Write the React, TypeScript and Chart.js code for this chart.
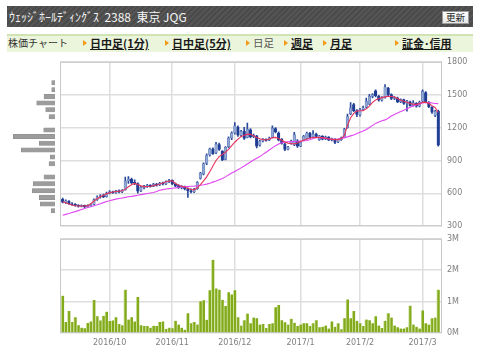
import React, { useEffect, useRef } from "react";
import { Chart, registerables } from "chart.js";
Chart.register(...registerables);

// ---- data (trading days 2016/9/8 .. 2017/3/8) ----
const monthTickIdx = [15, 35, 55, 76, 95, 115];
const monthLabels = ["2016/10", "2016/11", "2016/12", "2017/1", "2017/2", "2017/3"];
const priceTicks = [300, 600, 900, 1200, 1500, 1800];
const volTicks = [0, 1, 2, 3];

const opens = [
  545, 516, 530, 505, 500, 490, 480, 490, 478, 488,
  500, 542, 566, 580, 570, 602, 614, 606, 622, 612,
  632, 712, 728, 700, 690, 624, 652, 664, 672, 664,
  684, 676, 694, 686, 706, 718, 686, 670, 652, 662,
  640, 622, 612, 642, 735, 775, 872, 950, 1005, 970,
  1045, 985, 910, 1025, 1105, 1150, 1205, 1130, 1165, 1110,
  1180, 1118, 1125, 1040, 1078, 1092, 1085, 1110, 1190, 1150,
  1095, 1050, 1000, 1055, 1040, 1080, 1030, 1085, 1100, 1150,
  1115, 1140, 1090, 1120, 1095, 1112, 1085, 1095, 1068, 1090,
  1110, 1200, 1325, 1410, 1355, 1315, 1365, 1385, 1415, 1485,
  1535, 1485, 1450, 1475, 1560, 1500, 1465, 1470, 1435, 1455,
  1420, 1435, 1400, 1420, 1395, 1440, 1520, 1430, 1385, 1310,
  1350,
];
const highs = [
  556, 540, 534, 516, 506, 498, 495, 493, 494, 505,
  550, 578, 588, 592, 612, 626, 620, 628, 632, 634,
  748, 752, 740, 722, 696, 664, 674, 682, 680, 692,
  692, 700, 702, 714, 728, 722, 694, 678, 670, 666,
  650, 640, 646, 708, 792, 878, 960, 1012, 1015, 1066,
  1058, 990, 1026, 1115, 1160, 1246, 1215, 1175, 1202, 1240,
  1190, 1140, 1130, 1085, 1100, 1098, 1112, 1216, 1200, 1160,
  1100, 1055, 1028, 1085, 1156, 1090, 1072, 1130, 1158, 1156,
  1172, 1150, 1130, 1126, 1122, 1118, 1105, 1100, 1094, 1112,
  1192, 1323, 1428, 1420, 1365, 1375, 1395, 1470, 1503, 1510,
  1545, 1495, 1482, 1592, 1568, 1508, 1482, 1478, 1462, 1460,
  1448, 1442, 1446, 1428, 1442, 1545, 1528, 1436, 1392, 1358,
  1360,
];
const lows = [
  512, 508, 498, 490, 482, 474, 476, 468, 472, 482,
  496, 535, 555, 560, 565, 594, 598, 600, 604, 606,
  628, 690, 688, 680, 602, 614, 640, 654, 656, 660,
  666, 670, 676, 680, 698, 678, 660, 645, 640, 630,
  562, 604, 606, 636, 728, 768, 862, 940, 955, 962,
  992, 898, 905, 1015, 1090, 1140, 1120, 1120, 1092, 1105,
  1105, 1108, 1015, 1030, 1070, 1075, 1080, 1105, 1150, 1078,
  1048, 990, 995, 1048, 1035, 1018, 1025, 1078, 1095, 1100,
  1110, 1112, 1082, 1088, 1090, 1080, 1078, 1054, 1062, 1082,
  1105, 1195, 1318, 1345, 1300, 1305, 1355, 1378, 1408, 1470,
  1480, 1440, 1440, 1468, 1490, 1455, 1455, 1428, 1428, 1410,
  1350, 1395, 1395, 1385, 1388, 1435, 1425, 1382, 1330, 1300,
  1030,
];
const closes = [
  520, 532, 505, 498, 490, 482, 490, 478, 488, 500,
  542, 566, 578, 568, 602, 614, 604, 622, 612, 628,
  712, 730, 698, 692, 620, 654, 664, 672, 662, 684,
  674, 694, 684, 706, 718, 686, 668, 652, 662, 640,
  624, 612, 640, 700, 785, 870, 945, 1005, 962, 1048,
  1000, 905, 1020, 1105, 1150, 1215, 1130, 1165, 1100, 1185,
  1115, 1130, 1030, 1075, 1092, 1082, 1105, 1195, 1160, 1085,
  1055, 1000, 1020, 1078, 1135, 1030, 1065, 1120, 1150, 1110,
  1140, 1120, 1125, 1095, 1115, 1085, 1100, 1065, 1090, 1105,
  1185, 1300, 1380, 1355, 1320, 1365, 1380, 1440, 1485, 1500,
  1490, 1450, 1470, 1570, 1500, 1465, 1475, 1435, 1455, 1420,
  1440, 1400, 1425, 1395, 1430, 1530, 1430, 1390, 1340, 1350,
  1040,
];
// short moving average (red)
const maShort = [
  526, 515, 503, 493, 487, 485, 484, 485, 488, 505,
  530, 550, 568, 582, 595, 605, 612, 617, 620, 624,
  638, 660, 678, 690, 680, 668, 661, 662, 665, 670,
  676, 685, 695, 705, 712, 714, 690, 675, 665, 658,
  645, 635, 632, 650, 680, 713, 750, 797, 850, 900,
  935, 955, 975, 1000, 1035, 1066, 1095, 1117, 1130, 1140,
  1138, 1126, 1110, 1098, 1090, 1087, 1095, 1108, 1110, 1100,
  1085, 1068, 1058, 1052, 1051, 1060, 1072, 1085, 1096, 1104,
  1110, 1112, 1110, 1108, 1104, 1098, 1092, 1090, 1090, 1100,
  1129, 1220, 1290, 1330, 1350, 1353, 1353, 1370, 1395, 1430,
  1452, 1465, 1473, 1480, 1485, 1484, 1479, 1466, 1450, 1440,
  1430, 1420, 1413, 1412, 1419, 1430, 1432, 1419, 1400, 1383,
  1338,
];
// long moving average (magenta)
const maLong = [
  400, 408, 416, 425, 433, 442, 452, 462, 470, 477,
  486, 495, 505, 515, 525, 533, 540, 547, 553, 558,
  563, 568, 572, 577, 582, 588, 593, 598, 603, 608,
  616, 628, 634, 639, 643, 646, 650, 655, 658, 660,
  662, 664, 666, 669, 673, 678, 684, 692, 702, 712,
  724, 736, 750, 768, 785, 800, 815, 832, 850, 868,
  886, 904, 920, 935, 955, 975, 995, 1015, 1035, 1050,
  1062, 1067, 1070, 1072, 1073, 1075, 1078, 1080, 1082, 1088,
  1100, 1108, 1110, 1105, 1100, 1096, 1094, 1093, 1096, 1100,
  1108, 1115, 1124, 1133, 1145, 1157, 1168, 1183, 1200, 1220,
  1238, 1250, 1262, 1270, 1285, 1305, 1320, 1333, 1347, 1358,
  1372, 1385, 1396, 1405, 1415, 1424, 1428, 1428, 1424, 1420,
  1418,
];
// volume, millions of shares
const volumes = [
  1.19, 0.35, 0.7, 0.35, 0.5, 0.25, 0.17, 0.15, 0.32, 0.37,
  1.05, 0.53, 0.4, 0.55, 0.68, 0.38, 0.4, 0.5, 0.29, 0.25,
  1.38, 0.43, 0.5, 0.37, 1.15, 0.25, 0.22, 0.22, 0.17, 0.23,
  0.22, 0.35, 0.37, 0.13, 0.17, 0.15, 0.39, 0.27, 0.17, 0.1,
  0.63, 0.31, 0.35, 0.27, 1.01, 1.04, 0.42, 1.36, 2.33, 1.42,
  1.38, 1.06, 0.86, 1.3, 1.23, 1.36, 0.5, 0.24, 0.41, 0.62,
  0.31, 0.49, 0.47, 0.27, 0.29, 0.16, 0.29, 0.31, 0.82, 0.89,
  0.41, 0.34, 0.27, 0.45, 0.33, 0.22, 0.27, 0.31, 0.31, 0.22,
  0.31, 0.41, 0.18, 0.2, 0.24, 0.14, 0.37, 0.2, 0.31, 0.12,
  0.47, 1.07, 0.47, 0.7, 0.39, 0.31, 0.22, 0.43, 0.41, 0.31,
  0.53, 0.24, 0.16, 0.39, 0.63, 0.49, 0.24, 0.18, 0.14, 0.14,
  0.18, 0.87, 0.27, 0.2, 0.14, 0.72, 0.31, 0.27, 0.47, 0.49,
  1.38,
];
// price-by-volume profile
const profileLevels = [1605, 1542, 1480, 1422, 1362, 1300, 1240, 1180, 1122, 1062, 1000, 938, 877, 818, 758, 697, 635, 575, 515, 455];
const profileVol = [0.66, 0.66, 2.2, 3.66, 1.86, 1.2, 0, 2.26, 8.34, 3.14, 6.74, 0.94, 1.2, 0, 2.2, 4.34, 4.54, 3.14, 2.94, 0.74];

const X_MIN = -0.86;
const X_MAX = 121.2;
const GRID = "#dedede";
const TICK_FONT = { family: "DejaVu Sans", size: 8 };

const framePlugin = {
  id: "frame",
  beforeDatasetsDraw(chart: any) {
    const { ctx, chartArea } = chart;
    ctx.save();
    ctx.strokeStyle = "#c9c9c9";
    ctx.lineWidth = 1;
    ctx.strokeRect(chartArea.left + 0.5, chartArea.top + 0.5, chartArea.right - chartArea.left - 1, chartArea.bottom - chartArea.top - 1);
    ctx.restore();
  },
};

function monthXScale(showLabels: boolean) {
  return {
    type: "linear",
    min: X_MIN,
    max: X_MAX,
    offset: false,
    afterBuildTicks: (s: any) => {
      s.ticks = monthTickIdx.map((v) => ({ value: v }));
    },
    afterFit: (s: any) => {
      s.height = showLabels ? 27 : 0;
    },
    ticks: {
      display: showLabels,
      autoSkip: false,
      maxRotation: 0,
      padding: 5,
      font: TICK_FONT,
      color: "#808080",
      callback: (v: number) => monthLabels[monthTickIdx.indexOf(v)] ?? "",
    },
    grid: { color: GRID, lineWidth: 1.5, drawTicks: false, offset: false },
    border: { display: false },
  };
}

export default function App() {
  const profRef = useRef<HTMLCanvasElement>(null);
  const priceRef = useRef<HTMLCanvasElement>(null);
  const volRef = useRef<HTMLCanvasElement>(null);

  useEffect(() => {
    const idx = closes.map((_, i) => i);
    const isUp = (i: number) => closes[i] >= opens[i];

    const price = new Chart(priceRef.current as HTMLCanvasElement, {
      type: "bar",
      data: {
        datasets: [
          {
            type: "line",
            data: idx.map((i) => ({ x: i, y: maShort[i] })),
            borderColor: "#e8325c",
            borderWidth: 1.1,
            pointRadius: 0,
            tension: 0,
            order: 0,
          },
          {
            type: "line",
            data: idx.map((i) => ({ x: i, y: maLong[i] })),
            borderColor: "#e046f2",
            borderWidth: 1.1,
            pointRadius: 0,
            tension: 0,
            order: 1,
          },
          {
            type: "bar",
            data: idx.map((i) => ({ x: i, y: [opens[i], closes[i]] })),
            backgroundColor: idx.map((i) => (isUp(i) ? "#93a8d3" : "#1f3d94")),
            borderColor: idx.map((i) => (isUp(i) ? "#5a77b6" : "#1f3d94")),
            borderWidth: 0.6,
            borderSkipped: false,
            barThickness: 2.6,
            grouped: false,
            order: 2,
          },
          {
            type: "bar",
            data: idx.map((i) => ({ x: i, y: [lows[i], highs[i]] })),
            backgroundColor: "#2b4a9c",
            barThickness: 1,
            grouped: false,
            order: 3,
          },
        ],
      } as any,
      options: {
        animation: false,
        responsive: false,
        maintainAspectRatio: false,
        devicePixelRatio: 1,
        layout: { padding: { left: 4, top: 9, bottom: 8, right: 0 } },
        plugins: { legend: { display: false }, tooltip: { enabled: false } },
        scales: {
          x: monthXScale(false) as any,
          y: {
            type: "linear",
            position: "right",
            min: 300,
            max: 1800,
            afterBuildTicks: (s: any) => {
              s.ticks = priceTicks.map((v) => ({ value: v }));
            },
            afterFit: (s: any) => {
              s.width = 38;
            },
            ticks: { font: TICK_FONT, color: "#808080", padding: 5, callback: (v: number) => String(v) },
            grid: { color: GRID, lineWidth: 1.5, drawTicks: false },
            border: { display: false },
          },
        },
      },
      plugins: [framePlugin],
    });

    const vol = new Chart(volRef.current as HTMLCanvasElement, {
      type: "bar",
      data: {
        datasets: [
          {
            data: idx.map((i) => ({ x: i, y: volumes[i] })),
            backgroundColor: "#82aa1b",
            borderColor: "#c8de93",
            borderWidth: { left: 1, right: 0, top: 0, bottom: 0 },
            borderSkipped: false,
            barThickness: 3,
          },
        ],
      } as any,
      options: {
        animation: false,
        responsive: false,
        maintainAspectRatio: false,
        devicePixelRatio: 1,
        layout: { padding: { left: 4, top: 5, bottom: 0, right: 0 } },
        plugins: { legend: { display: false }, tooltip: { enabled: false } },
        scales: {
          x: monthXScale(true) as any,
          y: {
            type: "linear",
            position: "right",
            min: 0,
            max: 3,
            afterBuildTicks: (s: any) => {
              s.ticks = volTicks.map((v) => ({ value: v }));
            },
            afterFit: (s: any) => {
              s.width = 38;
            },
            ticks: { font: TICK_FONT, color: "#808080", padding: 5, callback: (v: number) => v + "M" },
            grid: { color: GRID, lineWidth: 1.5, drawTicks: false },
            border: { display: false },
          },
        },
      },
      plugins: [framePlugin],
    });

    const prof = new Chart(profRef.current as HTMLCanvasElement, {
      type: "bar",
      data: {
        datasets: [
          {
            data: profileLevels.map((p, i) => ({ y: p, x: profileVol[i] })),
            backgroundColor: "#9c9c9c",
            borderColor: "#8c8c8c",
            borderWidth: 0.5,
            barThickness: 4.4,
          },
        ],
      } as any,
      options: {
        indexAxis: "y",
        animation: false,
        responsive: false,
        maintainAspectRatio: false,
        devicePixelRatio: 1,
        layout: { padding: { left: 5, top: 9, bottom: 8, right: 1 } },
        plugins: { legend: { display: false }, tooltip: { enabled: false } },
        scales: {
          y: { type: "linear", min: 300, max: 1800, offset: false, display: false, grid: { offset: false } },
          x: { type: "linear", min: 0, max: 10, reverse: true, display: false },
        },
      } as any,
    });

    return () => {
      price.destroy();
      vol.destroy();
      prof.destroy();
    };
  }, []);

  const jp = '"Noto Sans CJK JP", "Noto Sans", sans-serif';
  const tri = (left: number) => (
    <span
      style={{
        position: "absolute",
        left,
        top: 40,
        width: 0,
        height: 0,
        borderTop: "3px solid transparent",
        borderBottom: "3px solid transparent",
        borderLeft: "4px solid #f29a1a",
      }}
    />
  );
  const link = (left: number, text: string, bold = true) => (
    <span
      style={{
        position: "absolute",
        left,
        top: 35,
        lineHeight: "16px",
        fontSize: bold ? 11 : 10.5,
        fontWeight: bold ? 700 : 400,
        textDecoration: bold ? "underline" : "none",
        color: bold ? "#1a1a1a" : "#555",
        whiteSpace: "nowrap",
      }}
    >
      {text}
    </span>
  );

  return (
    <div
      style={{
        position: "fixed",
        left: 0,
        top: 0,
        width: 480,
        height: 360,
        background: "#fff",
        overflow: "hidden",
        fontFamily: jp,
      }}
    >
      <div
        style={{
          position: "absolute",
          left: 7,
          top: 6,
          width: 466,
          height: 21,
          background: "repeating-linear-gradient(135deg, #4a4a4a 0px, #4a4a4a 2px, #555555 2px, #555555 4px)",
        }}
      />
      <span
        style={{
          position: "absolute",
          left: 9,
          top: 6,
          lineHeight: "21px",
          fontSize: 12,
          color: "#f4f4f4",
          whiteSpace: "pre",
        }}
      >
        {"ｳｪｯｼﾞﾎｰﾙﾃﾞｨﾝｸﾞｽ  2388  東京 JQG"}
      </span>
      <div
        style={{
          position: "absolute",
          left: 442,
          top: 11,
          width: 25,
          height: 11,
          background: "linear-gradient(#ffffff, #e6e6e6)",
          border: "1px solid #9a9a9a",
          fontSize: 9.5,
          lineHeight: "11px",
          textAlign: "center",
          color: "#222",
        }}
      >
        更新
      </div>
      <div
        style={{
          position: "absolute",
          left: 7,
          top: 34,
          width: 466,
          height: 16,
          background: "#ebf5dc",
          borderTop: "2px solid #cfe3b3",
        }}
      />
      <span
        style={{
          position: "absolute",
          left: 8,
          top: 35,
          lineHeight: "16px",
          fontSize: 10,
          color: "#333",
          whiteSpace: "nowrap",
        }}
      >
        株価チャート
      </span>
      {tri(83)}
      {link(90, "日中足(1分)")}
      {tri(165)}
      {link(172, "日中足(5分)")}
      {tri(246)}
      {link(253, "日足", false)}
      {tri(284)}
      {link(291, "週足")}
      {tri(323)}
      {link(330, "月足")}
      {tri(395)}
      {link(402, "証金･信用")}

      <canvas
        ref={profRef}
        width={56}
        height={184}
        style={{ position: "absolute", left: 0, top: 52, width: 56, height: 184 }}
      />
      <canvas
        ref={priceRef}
        width={424}
        height={184}
        style={{ position: "absolute", left: 56, top: 52, width: 424, height: 184 }}
      />
      <canvas
        ref={volRef}
        width={424}
        height={131}
        style={{ position: "absolute", left: 56, top: 229, width: 424, height: 131 }}
      />
    </div>
  );
}
